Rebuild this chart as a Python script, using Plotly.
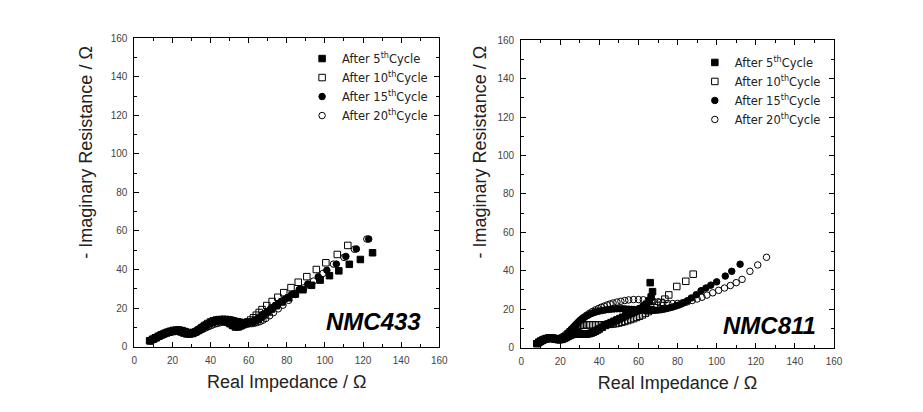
import plotly.graph_objects as go

# ---------------- data (Real Z, -Imag Z) ----------------
series_names = ["After 5<sup>th</sup>Cycle", "After 10<sup>th</sup>Cycle",
                "After 15<sup>th</sup>Cycle", "After 20<sup>th</sup>Cycle"]

nmc433_5th = [(8,3),(9.5,3.8),(11,4.6),(12.5,5.3),(14,6),(15.5,6.6),(17,7.1),(18.5,7.5),(20,7.8),
              (21.5,8),(23,8),(24.5,7.6),(26,7),(27.5,6.6),(29,6.5),(30.5,6.8),(32,7.5),(33.5,8.4),
              (35,9.4),(36.5,10.4),(38,11.3),(39.5,12),(41,12.6),(42.5,13.1),(44,13.4),(45.5,13.5),
              (47,13.3),(48.5,12.8),(50,12),(51.5,11),(53,10.2),(54.5,10.2),(56,10.8),(57.5,11.5),
              (59,12),(60.5,12.4),(62,12.8),(63.5,13.4),(65,14.2),(66.5,15.3),(68,16.5),(70,18),
              (72,19.5),(74.5,21.2),(77.5,23.2),(81,25.3),(84.5,27.3),(88.5,29.5),(93,31.8),
              (97.5,34.5),(102.4,36.8),(107.3,39.3),(112.8,42.7),(118.6,45.2),(125,48.7)]
nmc433_10th = [(8.5,3),(10,3.8),(11.5,4.6),(13,5.4),(14.5,6.2),(16,6.9),(17.5,7.5),(19,8),(20.5,8.4),
               (22,8.6),(23.5,8.6),(25,8.3),(26.5,7.8),(28,7.2),(29.5,6.9),(31,7.1),(32.5,7.8),(34,8.8),
               (35.5,9.9),(37,11),(38.5,12),(40,12.8),(41.5,13.4),(43,13.8),(44.5,14),(46,13.9),
               (47.5,13.5),(49,12.8),(50.5,11.9),(52,11),(53.5,10.5),(55,10.6),(56.5,11.2),(58,12),
               (59.5,12.8),(61,13.8),(62.5,15),(64,16.3),(65.5,17.7),(67,19.2),(69.5,21.3),(72.3,23.4),
               (75.3,25.6),(78.4,28),(82.2,30.6),(86,33.4),(90.5,36.3),(95.5,40),(100.5,43.5),
               (106.5,47.8),(112,52.5)]
nmc433_15th = [(8.5,3),(10,3.9),(11.5,4.8),(13,5.6),(14.5,6.4),(16,7),(17.5,7.6),(19,8),(20.5,8.3),
               (22,8.5),(23.5,8.5),(25,8.3),(26.5,8),(28,7.6),(29.5,7.4),(31,7.6),(32.5,8.2),(34,9),
               (35.5,10),(37,11),(38.5,11.9),(40,12.7),(41.5,13.3),(43,13.8),(44.5,14.1),(46,14.3),
               (47.5,14.3),(49,14.2),(50.5,14),(52,13.7),(53.5,13.3),(55,13),(56.5,12.7),(58,12.6),
               (59.5,12.6),(61,12.8),(62.5,13.3),(64,14),(65.5,14.9),(67,16),(69,17.5),(71,19),
               (73.5,20.8),(76,22.6),(79,24.6),(82.5,27),(86.5,29.6),(91,32.5),(96.5,36.2),(101,39.6),
               (106,42.8),(111,46.8),(116.5,50.7),(123,55.8)]
nmc433_20th = [(9,3.2),(10.5,4),(12,4.9),(13.5,5.7),(15,6.4),(16.5,7),(18,7.5),(19.5,7.9),(21,8.2),
               (22.5,8.4),(24,8.4),(25.5,8.2),(27,7.8),(28.5,7.3),(30,7),(31.5,7.1),(33,7.6),(34.5,8.3),
               (36,9),(37.5,9.7),(39,10.4),(40.5,11),(42,11.6),(43.5,12),(45,12.4),(46.5,12.7),(48,12.9),
               (49.5,13),(51,13),(52.5,12.9),(54,12.7),(55.5,12.4),(57,12.1),(58.5,11.9),(60,11.8),
               (61.5,11.9),(63,12.1),(64.5,12.5),(66,13),(67.5,13.7),(69,14.6),(71,16),(73,17.6),
               (75.5,19.6),(78,21.5),(81,24),(84.5,27),(89,30.5),(94,34),(99,38),(104.5,42.8),
               (110,46.3),(115.5,50.5),(122,55.8)]

nmc811_5th = [(8,2),(9,2.8),(10,3.4),(11,3.9),(12,4.3),(13,4.6),(14,4.8),(15,4.8),(16,4.7),(17,4.5),
              (18,4.3),(19,4.1),(20,4.1),(21,4.3),(22,4.7),(23,5.2),(24,5.8),(25,6.3),(26,6.7),(27,7),
              (28,7.1),(29,7.1),(30,7),(31,7),(32,7),(33,7),(34,7.1),(35,7.3),(36,7.6),(37,8),(38,8.5),
              (39,9.1),(40,9.7),(41.5,10.6),(43,11.5),(44.5,12.3),(46,13),(47.5,13.7),(49,14.4),
              (50.5,15.1),(52,15.8),(53.5,16.5),(55,17.2),(56.5,17.9),(58,18.6),(59.5,19.4),(61,20.2),
              (62.5,21.2),(64,22.5),(65.5,24.2),(66.5,26.3),(67.2,29.1),(66,33.8)]
nmc811_10th = [(8,2),(9,2.6),(10,3.2),(11,3.8),(12,4.3),(13,4.7),(14,5),(15,5.1),(16,5),(17,4.8),
               (18,4.6),(19,4.5),(20,4.6),(21,5),(22,5.6),(23,6.4),(24,7.3),(25,8.2),(26,9.1),(27,9.9),
               (28,10.6),(29,11.1),(30,11.4),(31,11.6),(32,11.7),(33.5,11.8),(35,11.8),(36.5,11.8),
               (38,11.8),(39.5,11.8),(41,11.8),(42.5,11.9),(44,12),(45.5,12.1),(47,12.3),(48.5,12.5),
               (50,12.8),(51.5,13.2),(53,13.6),(54.5,14.1),(56,14.6),(57.5,15.1),(59,15.7),(60.5,16.3),
               (62,17),(63.5,17.8),(65,18.7),(66.5,19.7),(68,20.8),(69.5,22),(71.5,23.5),(73.5,25.2),
               (75.5,27.4),(79.6,31.8),(84.2,34.5),(88,38.2)]
nmc811_15th = [(8.5,2),(9.5,2.8),(10.5,3.4),(11.5,3.9),(12.5,4.3),(13.5,4.6),(14.5,4.7),(15.5,4.7),
               (16.5,4.5),(17.5,4.3),(18.5,4.1),(19.5,4.1),(20.5,4.4),(21.5,5),(22.5,5.8),(23.5,6.8),
               (24.5,7.9),(25.5,9),(26.5,10.2),(27.5,11.3),(28.5,12.4),(29.5,13.4),(30.5,14.3),
               (31.5,15.1),(32.5,15.8),(34,16.7),(35.5,17.5),(37,18.1),(38.5,18.6),(40,19),(41.5,19.3),
               (43,19.6),(44.5,19.8),(46,20),(47.5,20.1),(49,20.2),(50.5,20.2),(52,20.2),(53.5,20.1),
               (55,20),(56.5,19.9),(58,19.8),(59.5,19.6),(61,19.5),(62.5,19.4),(64,19.3),(65.5,19.3),
               (67,19.3),(68.5,19.4),(70,19.5),(71.5,19.7),(73,20),(74.5,20.3),(76,20.7),(77.5,21.1),
               (79,21.6),(80.5,22.1),(82,22.7),(83.5,23.4),(85,24.4),(87,25.8),(89.5,27.5),(92,29.6),
               (94.5,31),(97,32.5),(100,34.2),(104.4,37.2),(107.7,39.7),(112,43.4)]
nmc811_20th = [(9,2.2),(10,2.9),(11,3.5),(12,4),(13,4.4),(14,4.7),(15,4.8),(16,4.7),(17,4.5),(18,4.3),
               (19,4.2),(20,4.3),(21,4.7),(22,5.4),(23,6.3),(24,7.4),(25,8.6),(26,9.8),(27,11),(28,12.1),
               (29,13.1),(30,14.1),(31,15),(32,15.8),(33.5,16.9),(35,17.9),(36.5,18.8),(38,19.6),
               (39.5,20.3),(41,21),(42.5,21.6),(44,22.2),(45.5,22.7),(47,23.2),(49,23.7),(51,24.1),
               (53,24.5),(55,24.8),(57.5,25),(60,25),(62.5,24.9),(65,24.6),(67.5,24.2),(70,23.8),
               (72.5,23.3),(75,23),(77.5,22.9),(80,23),(82.5,23.3),(85,23.8),(87.5,24.5),(90,25.3),
               (92.5,26.2),(95,27.3),(98,28.5),(101,29.8),(104,31),(107,32.3),(110,33.8),(113,35.5),
               (117,39.7),(121,43),(125.5,47)]

panel_labels = ["NMC433", "NMC811"]
tick_vals = [0, 20, 40, 60, 80, 100, 120, 140, 160]
x_title = "Real Impedance / Ω"
y_title = "- Imaginary Resistance / Ω"

# ---------------- styling ----------------
symbols = ["square", "square-open", "circle", "circle-open"]
FONT = "Liberation Sans, Arial, sans-serif"

fig = go.Figure()
panels = [
    ("x", "y", "legend", [nmc433_5th, nmc433_10th, nmc433_15th, nmc433_20th]),
    ("x2", "y2", "legend2", [nmc811_5th, nmc811_10th, nmc811_15th, nmc811_20th]),
]
for xa, ya, lg, data in panels:
    for name, sym, pts in zip(series_names, symbols, data):
        fig.add_trace(go.Scatter(
            x=[p[0] for p in pts], y=[p[1] for p in pts],
            mode="markers", name=name, xaxis=xa, yaxis=ya, legend=lg,
            marker=dict(symbol=sym, size=6.5, color="black",
                        line=dict(color="black", width=1)),
        ))

def axis_common():
    return dict(
        range=[0, 160], tickvals=tick_vals, ticks="inside", ticklen=5,
        tickcolor="black", tickwidth=1, showline=True, linecolor="black",
        linewidth=1, mirror="ticks", showgrid=False, zeroline=False,
        tickfont=dict(family=FONT, size=10, color="#444"),
        ticklabelstandoff=4,
        minor=dict(dtick=10, ticks="inside", ticklen=3, tickcolor="black"),
        fixedrange=True,
    )

# page body has an 8px margin: figure is sized to fit the window
W, H = 907, 396
OFF = 8
def px(v):
    return (v - OFF) / W
def py(v):
    return (H - (v - OFF)) / H

title_font = dict(family=FONT, size=18, color="#222")
leg_font = dict(family="DejaVu Sans, sans-serif", size=11.5, color="#222")
fig.update_layout(
    width=W, height=H, margin=dict(l=0, r=0, t=0, b=0),
    paper_bgcolor="white", plot_bgcolor="white",
    xaxis=dict(axis_common(), domain=[px(133), px(442)], anchor="y",
               title=dict(text=x_title, font=title_font, standoff=10)),
    yaxis=dict(axis_common(), domain=[py(351), py(33)], anchor="x"),
    xaxis2=dict(axis_common(), domain=[px(525), px(842)], anchor="y2",
                title=dict(text=x_title, font=title_font, standoff=10)),
    yaxis2=dict(axis_common(), domain=[py(352), py(35)], anchor="x2"),
    legend=dict(x=px(303), y=py(39), xanchor="left", yanchor="top",
                bgcolor="rgba(0,0,0,0)", font=leg_font,
                tracegroupgap=0, itemwidth=30),
    legend2=dict(x=px(701), y=py(43), xanchor="left", yanchor="top",
                 bgcolor="rgba(0,0,0,0)", font=leg_font,
                 tracegroupgap=0, itemwidth=30),
    showlegend=True,
)

# rotated y-axis titles
for xc in (84, 483):
    fig.add_annotation(text=y_title, x=px(xc), y=py(150), xref="paper", yref="paper",
                       textangle=-90, showarrow=False, font=title_font,
                       xanchor="center", yanchor="middle")

for lab, xr, yr, xc, yc in [
        (panel_labels[0], "x", "y", 125.5, 13),
        (panel_labels[1], "x2", "y2", 127, 11.5)]:
    fig.add_annotation(text="<b><i>" + lab + "</i></b>", x=xc, y=yc, xref=xr, yref=yr,
                       showarrow=False, font=dict(family=FONT, size=24, color="black"))

fig.write_html("out.html")
